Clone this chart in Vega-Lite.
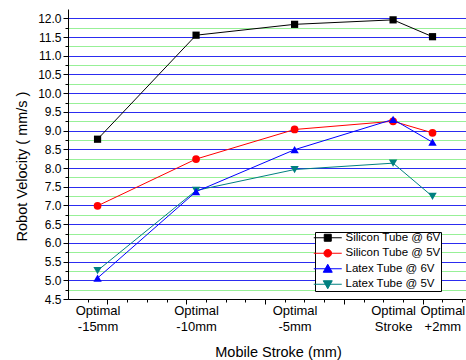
{
  "$schema": "https://vega.github.io/schema/vega-lite/v6.json",
  "width": 398,
  "height": 290,
  "autosize": "none",
  "padding": {"left": 68, "top": 9, "right": 0, "bottom": 61},
  "background": "white",
  "config": {
    "view": {"stroke": null},
    "font": "Liberation Sans",
    "axis": {"domainColor": "black", "tickColor": "black", "labelColor": "black", "titleColor": "black", "titleFontWeight": "normal", "labelFont": "Liberation Sans", "titleFont": "Liberation Sans"},
    "legend": {"orient": "none", "legendX": 247, "legendY": 223, "padding": 0, "strokeColor": "black", "fillColor": "white", "symbolSize": 100, "symbolStrokeWidth": 1, "symbolOffset": 7, "rowPadding": 2.5, "labelFontSize": 11.5, "labelOffset": 12, "labelLimit": 200, "labelColor": "black", "symbolOpacity": 1, "labelFont": "Liberation Sans"}
  },
  "data": {
    "values": [
      {"stroke": -15, "velocity": 8.77, "series": "Silicon Tube @ 6V"},
      {"stroke": -10, "velocity": 11.55, "series": "Silicon Tube @ 6V"},
      {"stroke": -5, "velocity": 11.84, "series": "Silicon Tube @ 6V"},
      {"stroke": 0, "velocity": 11.96, "series": "Silicon Tube @ 6V"},
      {"stroke": 2, "velocity": 11.51, "series": "Silicon Tube @ 6V"},
      {"stroke": -15, "velocity": 6.99, "series": "Silicon Tube @ 5V"},
      {"stroke": -10, "velocity": 8.24, "series": "Silicon Tube @ 5V"},
      {"stroke": -5, "velocity": 9.03, "series": "Silicon Tube @ 5V"},
      {"stroke": 0, "velocity": 9.25, "series": "Silicon Tube @ 5V"},
      {"stroke": 2, "velocity": 8.94, "series": "Silicon Tube @ 5V"},
      {"stroke": -15, "velocity": 5.26, "series": "Latex Tube @ 5V"},
      {"stroke": -10, "velocity": 7.40, "series": "Latex Tube @ 5V"},
      {"stroke": -5, "velocity": 7.96, "series": "Latex Tube @ 5V"},
      {"stroke": 0, "velocity": 8.13, "series": "Latex Tube @ 5V"},
      {"stroke": 2, "velocity": 7.24, "series": "Latex Tube @ 5V"},
      {"stroke": -15, "velocity": 5.06, "series": "Latex Tube @ 6V"},
      {"stroke": -10, "velocity": 7.37, "series": "Latex Tube @ 6V"},
      {"stroke": -5, "velocity": 8.49, "series": "Latex Tube @ 6V"},
      {"stroke": 0, "velocity": 9.30, "series": "Latex Tube @ 6V"},
      {"stroke": 2, "velocity": 8.69, "series": "Latex Tube @ 6V"}
    ]
  },
  "layer": [
    {
      "mark": {"type": "point", "opacity": 0},
      "encoding": {
        "x": {"field": "stroke", "type": "quantitative", "scale": {"domain": [-16.5, 3.7], "nice": false, "zero": false},
          "axis": {"orient": "bottom", "values": [-14.5, -10.5, -6.5, -2.5, 1.5], "tickSize": 5, "labels": false, "domain": false, "grid": false, "title": null}},
        "y": {"field": "velocity", "type": "quantitative", "scale": {"domain": [4.5, 12.25], "nice": false, "zero": false},
          "axis": {"orient": "left", "values": [4.75, 5.25, 5.75, 6.25, 6.75, 7.25, 7.75, 8.25, 8.75, 9.25, 9.75, 10.25, 10.75, 11.25, 11.75], "tickSize": 3, "labels": false, "domain": false, "grid": true, "gridColor": "#2ee02e", "gridDash": [1, 1], "gridWidth": 1, "title": null}}
      }
    },
    {
      "mark": {"type": "line", "strokeWidth": 1},
      "encoding": {
        "x": {"field": "stroke", "type": "quantitative", "scale": {"domain": [-16.5, 3.7], "nice": false, "zero": false},
          "axis": {"orient": "bottom", "values": [-15, -10, -5, 0, 2.5], "ticks": false, "tickSize": 0, "grid": false, "domain": true, "domainWidth": 1,
            "labelExpr": "datum.value == -15 ? ['Optimal', '-15mm'] : datum.value == -10 ? ['Optimal', '-10mm'] : datum.value == -5 ? ['Optimal', '-5mm'] : datum.value == 0 ? ['Optimal', 'Stroke'] : ['Optimal', '+2mm']",
            "labelFontSize": 13, "labelLineHeight": 16, "labelPadding": 5, "labelAlign": "center", "labelFlush": false, "labelOverlap": false,
            "title": "Mobile Stroke (mm)", "titleFontSize": 14.5, "titleX": 210, "titleY": 57, "titleAlign": "center", "titleBaseline": "alphabetic"}},
        "y": {"field": "velocity", "type": "quantitative", "scale": {"domain": [4.5, 12.25], "nice": false, "zero": false},
          "axis": {"orient": "left", "values": [4.5, 5, 5.5, 6, 6.5, 7, 7.5, 8, 8.5, 9, 9.5, 10, 10.5, 11, 11.5, 12], "format": ".1f", "tickSize": 5, "labelFontSize": 12, "labelPadding": 2,
            "grid": true, "gridColor": "#2c2cf0", "gridWidth": 1, "domain": true, "labelFlush": false, "labelOverlap": false,
            "title": "Robot Velocity ( mm/s )", "titleFontSize": 14.5, "titleX": -46, "titleY": 157, "titleAlign": "center", "titleBaseline": "middle", "titleAngle": -90}},
        "color": {"field": "series", "type": "nominal", "legend": null,
          "scale": {"domain": ["Latex Tube @ 5V", "Latex Tube @ 6V", "Silicon Tube @ 5V", "Silicon Tube @ 6V"], "range": ["#008080", "#0000ff", "#ff0000", "#000000"]}}
      }
    },
    {
      "transform": [{"filter": "datum.series == 'Silicon Tube @ 6V'"}],
      "mark": {"type": "point", "filled": true, "shape": "square", "size": 52, "color": "#000000", "opacity": 1},
      "encoding": {
        "x": {"field": "stroke", "type": "quantitative", "scale": {"domain": [-16.5, 3.7], "nice": false, "zero": false},
          "axis": {"orient": "bottom", "values": [-15.5, -13.5, -12.5, -11.5, -9.5, -8.5, -7.5, -5.5, -4.5, -3.5, -1.5, -0.5, 0.5, 2.5, 3.5], "tickSize": 3, "labels": false, "domain": false, "grid": false, "title": null}},
        "y": {"field": "velocity", "type": "quantitative", "axis": null}
      }
    },
    {
      "transform": [{"filter": "datum.series == 'Silicon Tube @ 5V'"}],
      "mark": {"type": "point", "filled": true, "shape": "circle", "size": 60, "color": "#ff0000", "opacity": 1},
      "encoding": {
        "x": {"field": "stroke", "type": "quantitative", "axis": null},
        "y": {"field": "velocity", "type": "quantitative", "axis": null}
      }
    },
    {
      "transform": [{"filter": "datum.series == 'Latex Tube @ 5V'"}],
      "mark": {"type": "point", "filled": true, "shape": "triangle-down", "size": 70, "color": "#008080", "opacity": 1},
      "encoding": {
        "x": {"field": "stroke", "type": "quantitative", "axis": null},
        "y": {"field": "velocity", "type": "quantitative", "axis": null}
      }
    },
    {
      "transform": [{"filter": "datum.series == 'Latex Tube @ 6V'"}],
      "mark": {"type": "point", "filled": true, "shape": "triangle-up", "size": 70, "color": "#0000ff", "opacity": 1},
      "encoding": {
        "x": {"field": "stroke", "type": "quantitative", "axis": null},
        "y": {"field": "velocity", "type": "quantitative", "axis": null}
      }
    },
    {
      "transform": [{"filter": "datum.series == 'none'"}],
      "mark": {"type": "point", "filled": true, "opacity": 1, "strokeWidth": 1, "size": 100},
      "encoding": {
        "fill": {"field": "series", "type": "nominal",
          "scale": {"domain": ["Silicon Tube @ 6V", "Silicon Tube @ 5V", "Latex Tube @ 6V", "Latex Tube @ 5V"], "range": ["#000000", "#ff0000", "#0000ff", "#008080"]},
          "legend": {"title": null}},
        "stroke": {"field": "series", "type": "nominal",
          "scale": {"domain": ["Silicon Tube @ 6V", "Silicon Tube @ 5V", "Latex Tube @ 6V", "Latex Tube @ 5V"], "range": ["#000000", "#ff0000", "#0000ff", "#008080"]},
          "legend": {"title": null}},
        "shape": {"field": "series", "type": "nominal",
          "scale": {"domain": ["Silicon Tube @ 6V", "Silicon Tube @ 5V", "Latex Tube @ 6V", "Latex Tube @ 5V"],
            "range": ["M-2.8,0H2.8M-0.7,-0.7H0.7V0.7H-0.7Z", "M-2.8,0H2.8M-0.76,0A0.76,0.76,0,1,0,0.76,0A0.76,0.76,0,1,0,-0.76,0Z", "M-2.8,0H2.8M0,-0.9L0.9,0.7L-0.9,0.7Z", "M-2.8,0H2.8M0,0.9L0.9,-0.7L-0.9,-0.7Z"]},
          "legend": {"title": null}}
      }
    }
  ],
  "resolve": {"axis": {"x": "independent", "y": "independent"}}
}
